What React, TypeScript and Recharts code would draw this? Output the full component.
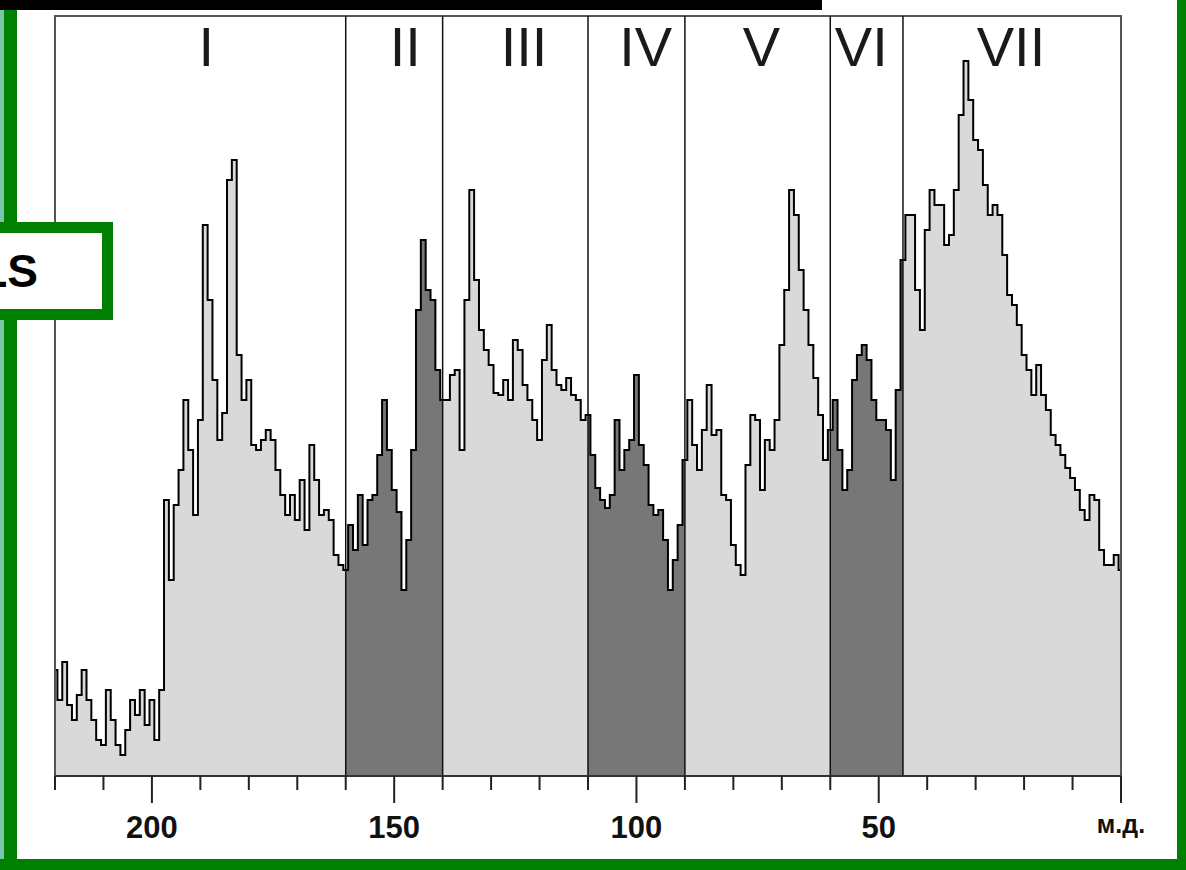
import { AreaChart, Area, XAxis, YAxis, ReferenceLine, ReferenceArea } from "recharts";

// intensities, 1 ppm steps, left (220) to right (0)
const zoneI = [
  106, 76, 114, 71, 56, 81, 106, 76, 56, 36,
  31, 86, 56, 31, 21, 46, 76, 61, 86, 51,
  76, 36, 86, 276, 196, 271, 306, 376, 326, 261,
  356, 551, 476, 396, 336, 363, 596, 616, 421, 376,
  396, 331, 326, 336, 346, 336, 306, 281, 261, 281,
  256, 296, 246, 331, 296, 261, 266, 256, 221, 211,
];
const zoneII = [
  206, 251, 226, 281, 231, 276, 281, 321, 376, 326,
  286, 264, 186, 236, 326, 466, 536, 486, 476, 406,
];
const zoneIII = [
  376, 376, 401, 406, 326, 476, 586, 496, 446, 426,
  411, 383, 381, 396, 376, 436, 426, 391, 376, 356,
  336, 416, 451, 406, 391, 386, 398, 381, 376, 356,
];
const zoneIV = [
  361, 321, 288, 276, 268, 281, 356, 306, 326, 336,
  401, 331, 311, 271, 261, 266, 236, 186, 216, 251,
];
const zoneV = [
  316, 376, 331, 306, 346, 391, 341, 346, 281, 276,
  231, 211, 201, 311, 361, 356, 286, 336, 326, 356,
  431, 486, 586, 561, 506, 466, 431, 398, 361, 316,
];
const zoneVI = [346, 376, 326, 286, 306, 396, 421, 431, 416, 376, 356, 356, 346, 296, 386];
const zoneVII = [
  516, 561, 561, 486, 446, 546, 586, 571, 571, 531,
  541, 586, 661, 715, 676, 636, 626, 591, 561, 571,
  561, 521, 481, 471, 451, 421, 406, 381, 411, 381,
  366, 341, 331, 321, 308, 298, 286, 266, 256, 281,
  276, 226, 211, 211, 221, 206,
];

const intensity = [...zoneI, ...zoneII, ...zoneIII, ...zoneIV, ...zoneV, ...zoneVI, ...zoneVII];
const data = intensity.map((value, i) => ({ ppm: 220 - i, value }));

const tickValues = [220, 210, 200, 190, 180, 170, 160, 150, 140, 130, 120, 110, 100, 90, 80, 70, 60, 50, 40, 30, 20, 10, 0];
const majorTicks = [200, 150, 100, 50, 0];
const boundaries = [160, 140, 110, 90, 60, 45];
const numerals = ["I", "II", "III", "IV", "V", "VI", "VII"];
const numeralPos = [188.8, 147.7, 123.2, 98.1, 74.2, 53.6, 22.7];

const FONT = "'Liberation Sans', Arial, sans-serif";
const GREEN = "#008000";

function PpmTick({ x, y, payload }: any) {
  const v = payload.value;
  const major = majorTicks.includes(v);
  return (
    <g>
      <line x1={x} x2={x} y1={y} y2={y + (major ? 27 : 14)} stroke="#222" strokeWidth={2} />
      {major && (
        <text
          x={x}
          y={v === 0 ? y + 57 : y + 62}
          textAnchor="middle"
          fontFamily={FONT}
          fontWeight="bold"
          fontSize={v === 0 ? 25 : 31}
          fill="#111"
        >
          {v === 0 ? "м.д." : v}
        </text>
      )}
    </g>
  );
}

export default function App() {
  const f = (b: number) => (220 - b) / 220;
  return (
    <div style={{ position: "absolute", left: 0, top: 0, width: 1186, height: 870, background: "#fff", overflow: "hidden" }}>
      <AreaChart width={1186} height={870} data={data} margin={{ top: 16, right: 65, bottom: 0, left: 55 }}>
        <defs>
          <linearGradient id="zoneFill" x1="0" y1="0" x2="1" y2="0">
            <stop offset={0} stopColor="#d9d9d9" />
            <stop offset={f(160)} stopColor="#d9d9d9" />
            <stop offset={f(160)} stopColor="#777777" />
            <stop offset={f(140)} stopColor="#777777" />
            <stop offset={f(140)} stopColor="#d9d9d9" />
            <stop offset={f(110)} stopColor="#d9d9d9" />
            <stop offset={f(110)} stopColor="#777777" />
            <stop offset={f(90)} stopColor="#777777" />
            <stop offset={f(90)} stopColor="#d9d9d9" />
            <stop offset={f(60)} stopColor="#d9d9d9" />
            <stop offset={f(60)} stopColor="#777777" />
            <stop offset={f(45)} stopColor="#777777" />
            <stop offset={f(45)} stopColor="#d9d9d9" />
            <stop offset={1} stopColor="#d9d9d9" />
          </linearGradient>
        </defs>
        <XAxis
          dataKey="ppm"
          type="number"
          domain={[0, 220]}
          reversed
          ticks={tickValues}
          interval={0}
          height={94}
          tickSize={0}
          tickMargin={0}
          tickLine={false}
          axisLine={{ stroke: "#333", strokeWidth: 2 }}
          tick={<PpmTick />}
        />
        <YAxis hide domain={[0, 760]} />
        <Area
          type="step"
          dataKey="value"
          stroke="#000"
          strokeWidth={2}
          fill="url(#zoneFill)"
          fillOpacity={1}
          dot={false}
          activeDot={false}
          isAnimationActive={false}
        />
        <ReferenceArea x1={220} x2={0} y1={0} y2={760} fill="none" stroke="#555" strokeWidth={2} />
        {boundaries.map((b) => (
          <ReferenceLine key={b} x={b} stroke="#111" strokeWidth={1.5} />
        ))}
        {numerals.map((n, i) => (
          <ReferenceLine
            key={n}
            x={numeralPos[i]}
            stroke="none"
            label={{ value: n, position: "insideTop", offset: 10, fontSize: 56, fill: "#1a1a1a", fontFamily: FONT }}
          />
        ))}
      </AreaChart>
      <svg width={1186} height={870} style={{ position: "absolute", left: 0, top: 0, pointerEvents: "none" }}>
        <rect x={0} y={0} width={4} height={870} fill="#7cc4ac" />
        <rect x={4} y={0} width={13} height={870} fill={GREEN} />
        <rect x={1177} y={0} width={9} height={870} fill={GREEN} />
        <rect x={0} y={859} width={1186} height={11} fill={GREEN} />
        <rect x={0} y={0} width={822} height={10} fill="#000" />
        <rect x={-20} y={222} width={133} height={98} fill={GREEN} />
        <rect x={-20} y={233} width={122} height={76} fill="#fff" />
        <text x={38} y={287} textAnchor="end" fontFamily={FONT} fontWeight="bold" fontSize={46} fill="#000">
          LS
        </text>
      </svg>
    </div>
  );
}
